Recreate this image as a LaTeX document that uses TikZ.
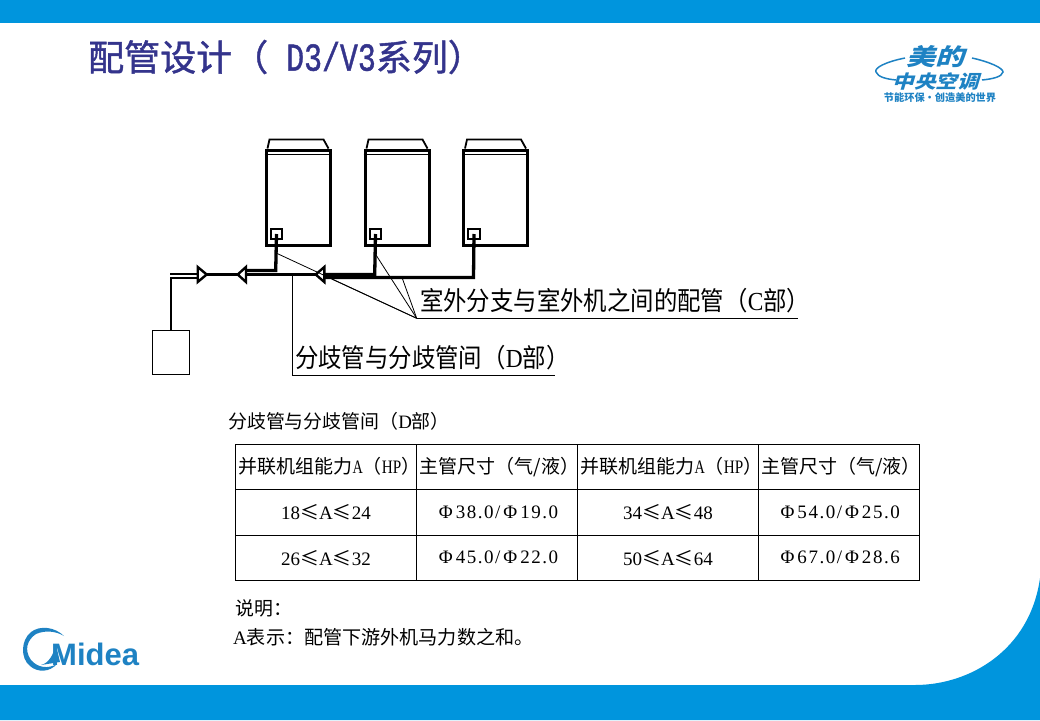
\documentclass[tikz,border=0pt]{standalone}
\usepackage{fontspec}
\setmainfont{Liberation Serif}
\newfontfamily\cjk{Noto Sans CJK SC}
\newfontfamily\cjktitle[FakeBold=1.2]{Noto Sans CJK SC}
\newfontfamily\latintitle[FakeBold=1.2]{Liberation Mono}
\newfontfamily\logofont{Liberation Sans}
\newfontfamily\numfont[LetterSpace=8]{Liberation Serif}
\newcommand{\cn}[1]{{\cjk #1}}
\newcommand{\phidia}[2]{\hspace{3pt}{\numfont Φ\hspace{3pt}#1/\hspace{3pt}Φ\hspace{3pt}#2}}
\newcommand{\capahead}{\makebox[170pt]{\hspace{7pt}\cn{并联机组能力}\scalebox{0.75}[1]{A}\cn{（}\scalebox{0.8}[1]{HP}\cn{）}}}
\newcommand{\sizehead}{\makebox[150pt]{\hspace{5pt}\cn{主管尺寸（气/液）}}}
\definecolor{mideablue}{RGB}{0,149,221}
\definecolor{logoblue}{RGB}{30,130,195}
\definecolor{titleblue}{RGB}{52,52,140}
\tikzset{
  pipe/.style={line width=3.3pt,line cap=butt,line join=miter},
  leader/.style={line width=0.8pt},
  unitbox/.style={draw,line width=3pt,minimum width=64pt,minimum height=95pt,inner sep=0pt},
  portbox/.style={draw,line width=2.2pt,minimum width=11.5pt,minimum height=10.5pt,inner sep=0pt},
  valve/.style={draw,fill=white,line width=2.4pt,line join=miter},
  cell/.style={draw,line width=1.1pt,inner sep=0pt,font=\fontsize{19}{22}\selectfont},
  note/.style={anchor=west,inner sep=0pt,font=\fontsize{18.9}{22}\selectfont},
  leadertext/.style={anchor=west,inner sep=0pt,xscale=0.9,transform shape,font=\fontsize{26}{30}\selectfont}
}
\begin{document}
\begin{tikzpicture}[x=1pt,y=-1pt]
\useasboundingbox (0,0) rectangle (1040,720);
% bands
\fill[mideablue] (0,0) rectangle (1040,23);
\fill[mideablue] (0,720) -- (0,685) -- (915,685) .. controls (970,685) and (1030,650) .. (1040,578) -- (1040,720) -- cycle;
\node[anchor=west,inner sep=0pt,text=titleblue,font=\fontsize{36}{40}\selectfont] (title) at (88,57)
  {{\cjktitle 配管设计（}\hspace{18pt}\scalebox{0.83}[1.1]{\latintitle D3/V3}{\cjktitle 系列）}};

% logo top right
\node[inner sep=0pt,text=logoblue,xslant=0.3,yscale=0.8,font=\fontsize{29}{30}\selectfont] (logoa) at (938,57) {{\cjk\bfseries 美的}};
\node[inner sep=0pt,text=logoblue,xslant=0.3,yscale=0.85,font=\fontsize{21.5}{24}\selectfont] (logob) at (938,81) {{\cjk\bfseries 中央空调}};
\node[inner sep=0pt,text=logoblue,font=\fontsize{10.2}{12}\selectfont] (logoc) at (940,98) {{\cjk\bfseries 节能环保·创造美的世界}};
\draw[logoblue,line width=1.5pt] (905,58) .. controls (885,62) and (874,68) .. (876,72) .. controls (878,77) and (886,79) .. (896,80);
\draw[logoblue,line width=1.5pt] (972,58) .. controls (990,62) and (1003,68) .. (1003,72) .. controls (1002,77) and (992,79) .. (982,80);

% logo bottom left
\fill[logoblue] (64,636) .. controls (55,627) and (40,625) .. (31,632) .. controls (21,640) and (20,658) .. (30,666)
  .. controls (38,673) and (50,672) .. (57,664) .. controls (48,669) and (38,668) .. (31,660)
  .. controls (24,650) and (27,640) .. (36,634) .. controls (45,630) and (56,631) .. (64,636) -- cycle;
\fill[logoblue] (41,665) .. controls (49,663) and (53,655) .. (56,645) -- (60,662) -- cycle;
\node[anchor=west,inner sep=0pt,text=logoblue,font=\fontsize{31}{34}\selectfont] (logom) at (51,654) {\logofont\bfseries Midea};

% outdoor units
\foreach \n/\x in {a/298,b/397,c/495.5} {
  \node[unitbox] (unit\n) at (\x,197.5) {};
  \node[portbox] (port\n) at (\x-21.5,234) {};
  \draw[line width=0.9pt] ([yshift=-5.5pt]unit\n.north west) -- ([yshift=-5.5pt]unit\n.north east);
  \draw[line width=1.8pt] ([xshift=3pt]unit\n.north west) -- ++(2,-9) -- ++(54,0) -- ([xshift=-3pt]unit\n.north east);
}

% junctions
\coordinate (inleft) at (170,273.7);
\coordinate (inlow) at (170,278);
\coordinate (valvea) at (202,274.5);
\coordinate (valveb) at (242,274.5);
\coordinate (valvec) at (320,274.5);
\coordinate (indoorin) at (171,330);
\coordinate (leadc) at (416.7,318.3);
\coordinate (leadd) at (292.3,375);

% pipes
\draw[pipe,line width=2.4pt] (inleft) -- (200,273.7);
\draw[pipe,line width=2.6pt] (inlow) -- (200,278);
\draw[pipe] (200,274.5) -- (valvec);
\draw[pipe,line width=2.8pt] (171,278) -- (indoorin);
\draw[pipe] (porta.center) -- (275.7,270.5) -- (242,270.5);
\draw[pipe] (portb.center) -- (374.7,274.5) -- (320,274.5);
\draw[pipe] (portc.center) -- (473.5,277.5) -- (320,277.5);
\draw[valve] (197.7,267) -- (206.7,274.5) -- (197.7,282) -- cycle;
\draw[valve] (246,267) -- (237.7,274.5) -- (246,282) -- cycle;
\draw[valve] (324.3,267) -- (315.7,274.5) -- (324.3,282) -- cycle;

% indoor unit
\node[draw,line width=0.9pt,minimum width=37pt,minimum height=44pt,inner sep=0pt] (indoor) at (171,352.3) {};

% leaders
\draw[leader] (276.7,253.3) -- (leadc);
\draw[leader] (331.7,279) -- (leadc);
\draw[leader] (376,255) -- (leadc);
\draw[leader] (402.3,278.3) -- (leadc);
\draw[leader] (leadc) -- (798,318.3);
\draw[leader] (292.3,275) -- (leadd) -- (555,375);
\node[leadertext] (labelc) at (420,301) {\cn{室外分支与室外机之间的配管（}C\cn{部）}};
\node[leadertext] (labeld) at (295,358) {\cn{分歧管与分歧管间（}D\cn{部）}};

% table
\node[note] (tabletitle) at (228,421) {\cn{分歧管与分歧管间（}D\cn{部）}};
\node[cell,minimum width=181pt,minimum height=45pt] (heada) at (326,466.7) {\capahead};
\node[cell,minimum width=161pt,minimum height=45pt] (headb) at (497,466.7) {\sizehead};
\node[cell,minimum width=181pt,minimum height=45pt] (headc) at (668,466.7) {\capahead};
\node[cell,minimum width=161pt,minimum height=45pt] (headd) at (838.7,466.7) {\sizehead};
\node[cell,minimum width=181pt,minimum height=46pt] (rowaa) at (326,512.2) {18\cn{≤}A\cn{≤}24};
\node[cell,minimum width=161pt,minimum height=46pt] (rowab) at (497,512.2) {\phidia{38.0}{19.0}};
\node[cell,minimum width=181pt,minimum height=46pt] (rowac) at (668,512.2) {34\cn{≤}A\cn{≤}48};
\node[cell,minimum width=161pt,minimum height=46pt] (rowad) at (838.7,512.2) {\phidia{54.0}{25.0}};
\node[cell,minimum width=181pt,minimum height=45pt] (rowba) at (326,557.8) {26\cn{≤}A\cn{≤}32};
\node[cell,minimum width=161pt,minimum height=45pt] (rowbb) at (497,557.8) {\phidia{45.0}{22.0}};
\node[cell,minimum width=181pt,minimum height=45pt] (rowbc) at (668,557.8) {50\cn{≤}A\cn{≤}64};
\node[cell,minimum width=161pt,minimum height=45pt] (rowbd) at (838.7,557.8) {\phidia{67.0}{28.6}};
\node[note] (notea) at (235,608) {\cn{说明：}};
\node[note,font=\fontsize{19.1}{22}\selectfont] (noteb) at (233,637) {A\cn{表示：配管下游外机马力数之和。}};
\end{tikzpicture}
\end{document}
